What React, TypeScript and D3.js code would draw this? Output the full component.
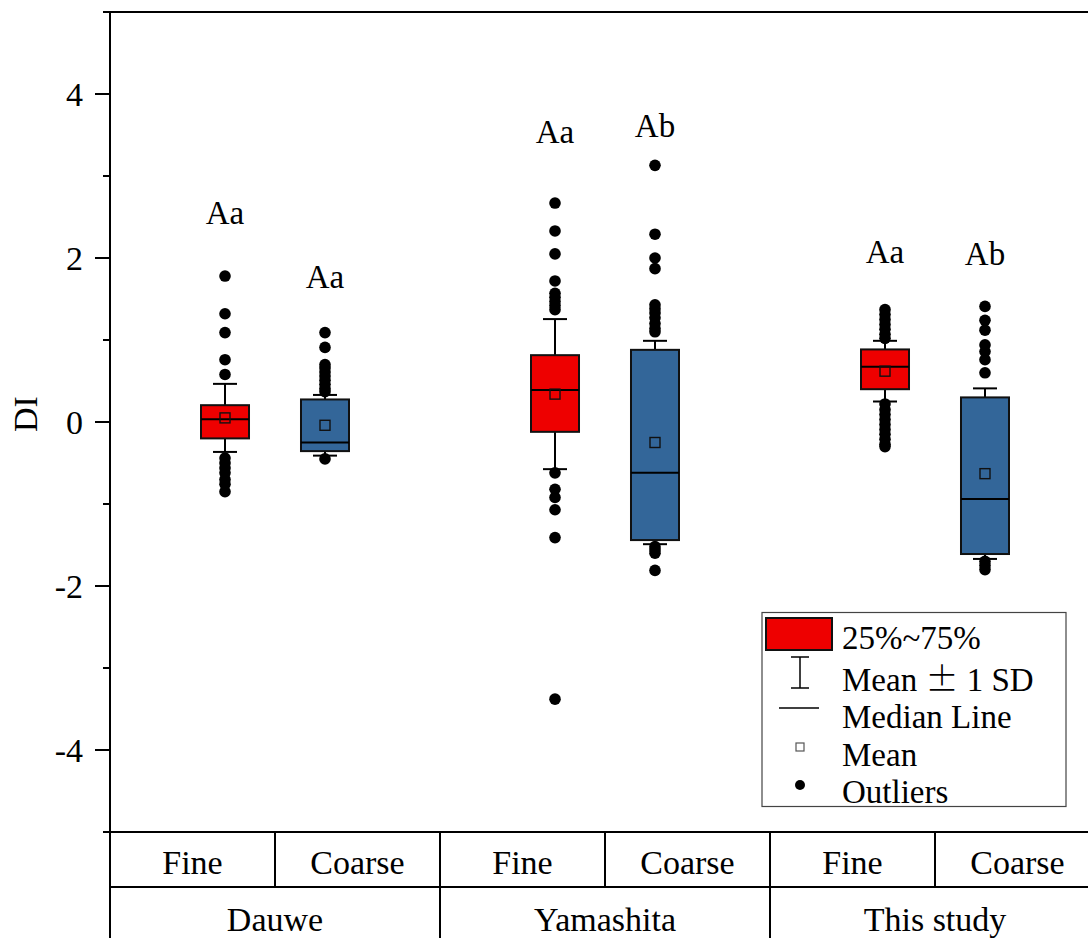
import React from 'react'
import * as d3 from 'd3'

// groups and sizes (box order: group by group, Fine then Coarse)
const groups = ['Dauwe', 'Yamashita', 'This study']
const sizes = ['Fine', 'Coarse']

const q1s = [-0.2, -0.355, -0.12, -1.44, 0.4, -1.61]
const medians = [0.035, -0.25, 0.39, -0.62, 0.675, -0.94]
const q3s = [0.205, 0.275, 0.815, 0.88, 0.885, 0.3]
const means = [0.05, -0.04, 0.34, -0.25, 0.62, -0.63]
const sds = [0.415, 0.37, 0.915, 1.24, 0.37, 1.04]

const outliers = [
    [1.78, 1.32, 1.09, 0.76, 0.58, -0.44, -0.5, -0.56, -0.62, -0.7, -0.76, -0.85],
    [1.09, 0.91, 0.7, 0.66, 0.61, 0.56, 0.51, 0.46, 0.41, 0.37, -0.45],
    [2.67, 2.33, 2.05, 1.72, 1.57, 1.52, 1.47, 1.42, 1.37, -0.62, -0.82, -0.92, -1.07, -1.41, -3.38],
    [3.13, 2.29, 2.0, 1.87, 1.43, 1.38, 1.33, 1.27, 1.2, 1.14, 1.1, -1.52, -1.56, -1.6, -1.81],
    [1.37, 1.31, 1.25, 1.19, 1.13, 1.07, 1.02, 0.22, 0.15, 0.09, 0.03, -0.03, -0.09, -0.15, -0.21, -0.27, -0.3],
    [1.41, 1.24, 1.12, 0.94, 0.86, 0.76, 0.6, -1.7, -1.75, -1.8],
]

// significance letters, placed at a DI value above each box
const letters = ['Aa', 'Aa', 'Aa', 'Ab', 'Aa', 'Ab']
const letterY = [2.42, 1.64, 3.4, 3.47, 1.94, 1.91]

const majorTicks = [-4, -2, 0, 2, 4]
const minorTicks = [-5, -3, -1, 1, 3, 5]

const RED = '#ee0000'
const BLUE = '#336699'
const FONT = '"Liberation Serif", "Times New Roman", serif'

export default function App() {
    const W = 1088
    const H = 938
    const left = 110
    const right = 1100
    const top = 12
    const bottom = 832
    const row1 = 887

    const y = d3.scaleLinear().domain([-5, 5]).range([bottom, top])
    const x = d3.scaleLinear().domain([0.5, groups.length + 0.5]).range([left, right])
    const off = 0.1515
    const bw = 48
    const capW = 24

    const boxes = groups.flatMap((g, gi) =>
        sizes.map((s, si) => {
            const i = gi * 2 + si
            return {
                i,
                cx: x(gi + 1 + (si === 0 ? -off : off)),
                color: si === 0 ? RED : BLUE,
            }
        })
    )

    const colW = (right - left) / (groups.length * sizes.length)

    return (
        <svg width={W} height={H} style={{ position: 'absolute', left: 0, top: 0, background: '#fff' }}
            fontFamily={FONT}>
            {/* boxes */}
            {boxes.map(({ i, cx, color }) => {
                const m = means[i], sd = sds[i]
                return (
                    <g key={i}>
                        <line x1={cx} x2={cx} y1={y(m + sd)} y2={y(q3s[i])} stroke="#000" strokeWidth={2} />
                        <line x1={cx} x2={cx} y1={y(q1s[i])} y2={y(m - sd)} stroke="#000" strokeWidth={2} />
                        <line x1={cx - capW / 2} x2={cx + capW / 2} y1={y(m + sd)} y2={y(m + sd)} stroke="#000" strokeWidth={2} />
                        <line x1={cx - capW / 2} x2={cx + capW / 2} y1={y(m - sd)} y2={y(m - sd)} stroke="#000" strokeWidth={2} />
                        <rect x={cx - bw / 2} y={y(q3s[i])} width={bw} height={y(q1s[i]) - y(q3s[i])}
                            fill={color} stroke="#111" strokeWidth={2} />
                        <line x1={cx - bw / 2} x2={cx + bw / 2} y1={y(medians[i])} y2={y(medians[i])} stroke="#000" strokeWidth={2} />
                        <rect x={cx - 5} y={y(m) - 5} width={10} height={10} fill="none" stroke="#111" strokeWidth={1.4} />
                        {outliers[i].map((v, k) => (
                            <circle key={k} cx={cx} cy={y(v)} r={5.8} fill="#000" />
                        ))}
                        <text x={cx} y={y(letterY[i])} fontSize={33} textAnchor="middle">{letters[i]}</text>
                    </g>
                )
            })}

            {/* frame and y axis */}
            <line x1={left - 7} x2={right} y1={top} y2={top} stroke="#000" strokeWidth={2} />
            <line x1={left} x2={left} y1={top} y2={H} stroke="#000" strokeWidth={2} />
            {majorTicks.map(t => (
                <g key={t}>
                    <line x1={left - 15} x2={left} y1={y(t)} y2={y(t)} stroke="#000" strokeWidth={2} />
                    <text x={left - 27} y={y(t)} dy="0.35em" fontSize={34} textAnchor="end">{t}</text>
                </g>
            ))}
            {minorTicks.map(t => (
                <line key={t} x1={left - 7} x2={left} y1={y(t)} y2={y(t)} stroke="#000" strokeWidth={2} />
            ))}
            <text transform={`translate(37, ${y(0) - 8}) rotate(-90)`} fontSize={34} textAnchor="middle">DI</text>

            {/* category table */}
            <line x1={left - 7} x2={right} y1={bottom} y2={bottom} stroke="#000" strokeWidth={2} />
            <line x1={left} x2={right} y1={row1} y2={row1} stroke="#000" strokeWidth={2} />
            {groups.map((g, gi) => {
                const gx0 = x(gi + 0.5)
                const gx1 = x(gi + 1.5)
                return (
                    <g key={g}>
                        <line x1={gx1} x2={gx1} y1={bottom} y2={H} stroke="#000" strokeWidth={2} />
                        <line x1={(gx0 + gx1) / 2} x2={(gx0 + gx1) / 2} y1={bottom} y2={row1} stroke="#000" strokeWidth={2} />
                        {sizes.map((s, si) => (
                            <text key={s} x={gx0 + colW * (si + 0.5)} y={874} fontSize={34} textAnchor="middle">{s}</text>
                        ))}
                        <text x={(gx0 + gx1) / 2} y={931} fontSize={34} textAnchor="middle">{g}</text>
                    </g>
                )
            })}

            {/* legend */}
            <g>
                <rect x={762} y={612.5} width={304} height={194} fill="#fff" stroke="#444" strokeWidth={1.2} />
                <rect x={766} y={618} width={66} height={32} fill={RED} stroke="#111" strokeWidth={2} />
                <line x1={800} x2={800} y1={657} y2={688} stroke="#000" strokeWidth={1.5} />
                <line x1={791} x2={809} y1={657} y2={657} stroke="#000" strokeWidth={1.5} />
                <line x1={791} x2={809} y1={688} y2={688} stroke="#000" strokeWidth={1.5} />
                <line x1={779} x2={819} y1={708} y2={708} stroke="#000" strokeWidth={1.5} />
                <rect x={796} y={743} width={8} height={8} fill="#fff" stroke="#555" strokeWidth={1.2} />
                <circle cx={800} cy={785} r={5} fill="#000" />
                <text x={842} y={649} fontSize={33}>25%~75%</text>
                <text x={842} y={691} fontSize={33}>
                    Mean <tspan fontFamily='"Noto Sans CJK SC", sans-serif' fontWeight={300}>{'\u00b1'}</tspan> 1 SD
                </text>
                <text x={842} y={728} fontSize={33}>Median Line</text>
                <text x={842} y={766} fontSize={33}>Mean</text>
                <text x={842} y={803} fontSize={33}>Outliers</text>
            </g>
        </svg>
    )
}
